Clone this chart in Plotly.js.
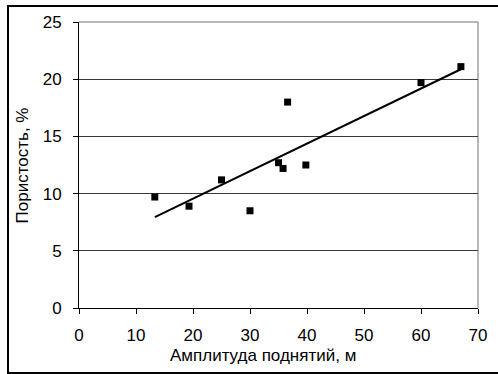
<!DOCTYPE html>
<html>
<head>
<meta charset="utf-8">
<script src="https://cdn.plot.ly/plotly-3.0.1.min.js"></script>
<style>
  html, body { margin: 0; padding: 0; background: #fff; }
  #wrap { position: relative; width: 498px; height: 374px; overflow: hidden; }
  #chart { position: absolute; left: 0; top: 0; width: 498px; height: 374px; }
  #frame { position: absolute; left: 7px; top: 5px; width: 500px; height: 365px; border: 2px solid #000; pointer-events: none; }
</style>
</head>
<body>
<div id="wrap">
  <div id="chart"></div>
  <div id="frame"></div>
</div>
<script>
// Data
const amplitude = [13.3, 19.3, 25.0, 30.0, 35.0, 35.8, 36.6, 39.8, 60.0, 67.0];
const porosity  = [9.7, 8.9, 11.2, 8.5, 12.7, 12.2, 18.0, 12.5, 19.7, 21.1];
const xTicks = [0, 10, 20, 30, 40, 50, 60, 70];
const yTicks = [0, 5, 10, 15, 20, 25];
const xTitle = 'Амплитуда поднятий, м';
const yTitle = 'Пористость, %';

// Linear trendline (least squares) over the data range
const n = amplitude.length;
const mx = amplitude.reduce((a, b) => a + b, 0) / n;
const my = porosity.reduce((a, b) => a + b, 0) / n;
let sxy = 0, sxx = 0;
for (let i = 0; i < n; i++) {
  sxy += (amplitude[i] - mx) * (porosity[i] - my);
  sxx += (amplitude[i] - mx) * (amplitude[i] - mx);
}
const slope = sxy / sxx;
const intercept = my - slope * mx;
const xMin = Math.min(...amplitude), xMax = Math.max(...amplitude);
const trendX = [xMin, xMax];
const trendY = trendX.map(x => intercept + slope * x);

const font = { family: '"Liberation Sans", Arial, sans-serif', size: 17, color: '#000' };

const data = [
  { x: trendX, y: trendY, type: 'scatter', mode: 'lines',
    line: { color: '#000', width: 2 }, hoverinfo: 'skip' },
  { x: amplitude, y: porosity, type: 'scatter', mode: 'markers',
    marker: { symbol: 'square', size: 7, color: '#000' } }
];

const layout = {
  width: 498, height: 374,
  margin: { l: 78.5, r: 20, t: 21.5, b: 65.5 },
  paper_bgcolor: '#fff', plot_bgcolor: '#fff',
  showlegend: false,
  font: font,
  xaxis: {
    range: [0, 70], tickvals: xTicks, ticktext: xTicks.map(String),
    showgrid: false, zeroline: false,
    showline: true, linecolor: '#000', linewidth: 1,
    ticks: 'outside', ticklen: 5, tickcolor: '#000', tickwidth: 1,
    ticklabelstandoff: 7,
    tickfont: font
  },
  yaxis: {
    range: [0, 25], tickvals: yTicks, ticktext: yTicks.map(String),
    showgrid: true, gridcolor: '#3a3a3a', gridwidth: 1,
    zeroline: false,
    showline: true, linecolor: '#000', linewidth: 1,
    ticks: 'outside', ticklen: 5, tickcolor: '#000', tickwidth: 1,
    ticklabelstandoff: 8,
    tickfont: font
  },
  annotations: [
    { text: xTitle, xref: 'paper', yref: 'paper', x: 0.462, y: -0.167,
      xanchor: 'center', yanchor: 'middle', showarrow: false, font: font },
    { text: yTitle, xref: 'paper', yref: 'paper', x: -0.1414, y: 0.497,
      xanchor: 'center', yanchor: 'middle', textangle: -90, showarrow: false, font: font }
  ],
  shapes: [
    { type: 'line', xref: 'paper', yref: 'paper', x0: 0, x1: 1, y0: 1, y1: 1,
      line: { color: '#a0a0a0', width: 1.5 }, layer: 'below' },
    { type: 'line', xref: 'paper', yref: 'paper', x0: 1, x1: 1, y0: 0, y1: 1,
      line: { color: '#a0a0a0', width: 1.5 }, layer: 'below' }
  ]
};

Plotly.newPlot('chart', data, layout, { displayModeBar: false, staticPlot: true });
</script>
</body>
</html>
